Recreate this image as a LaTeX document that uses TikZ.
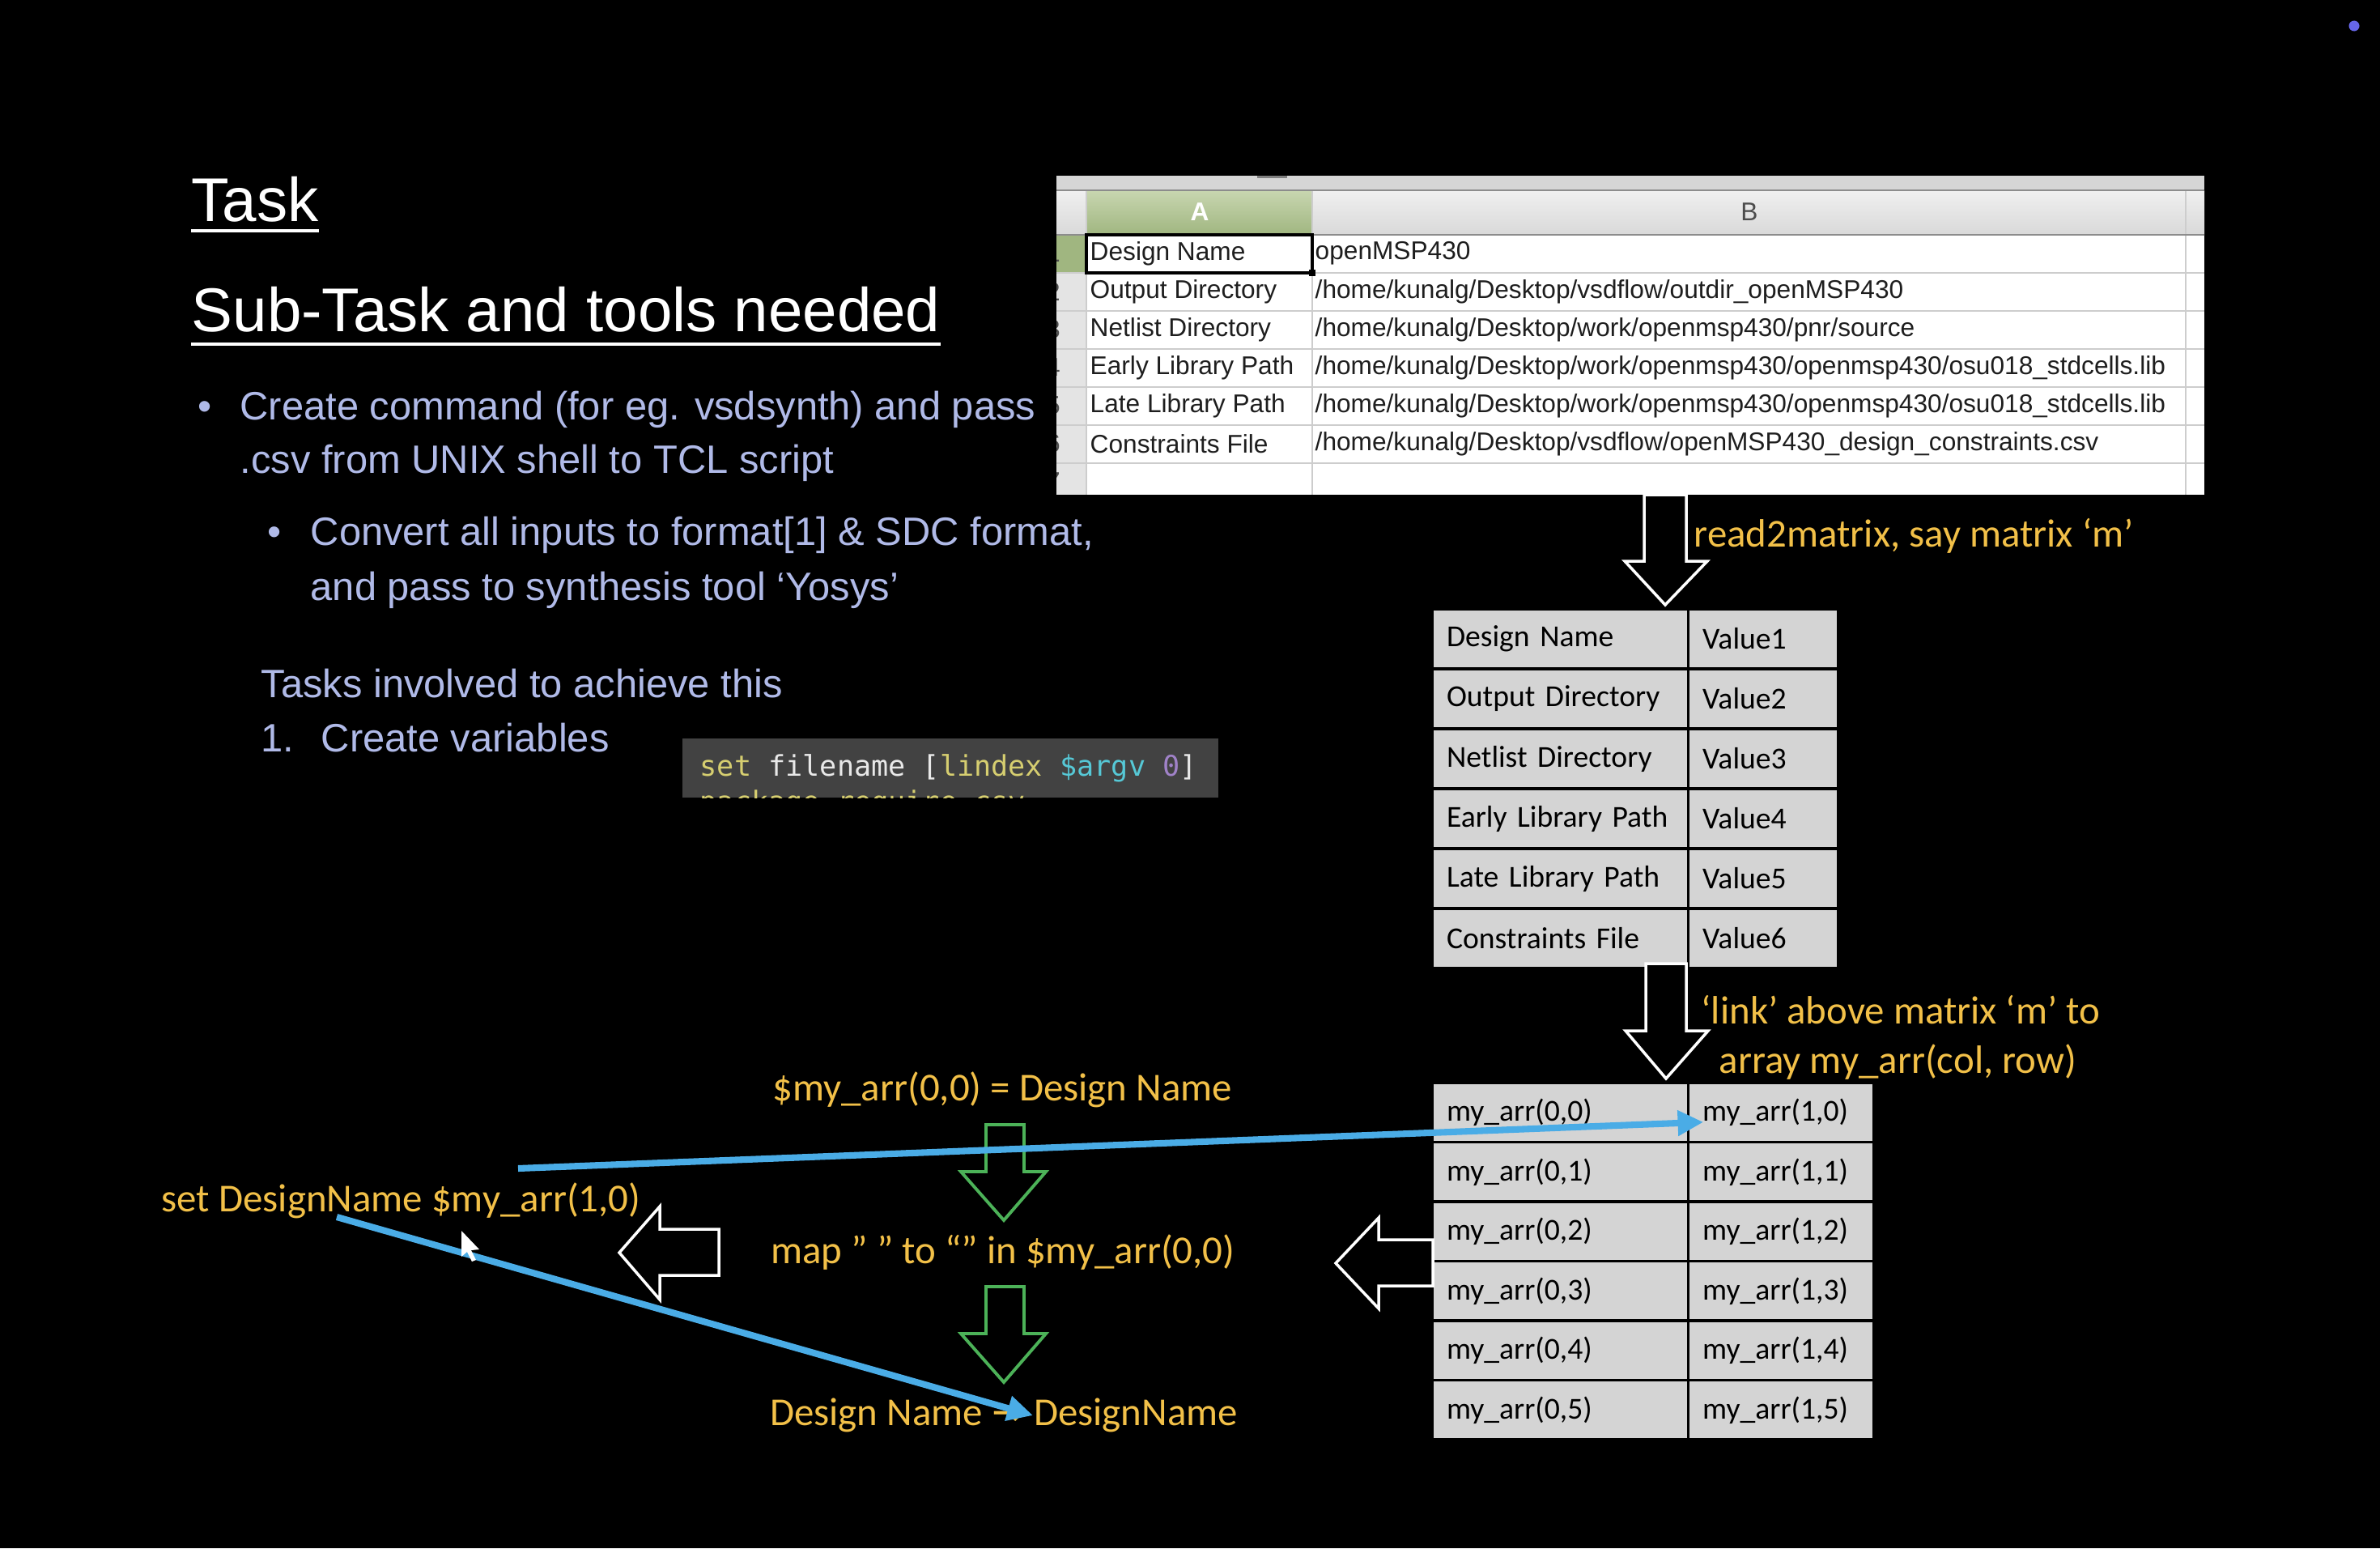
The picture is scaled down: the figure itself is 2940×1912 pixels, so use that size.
\documentclass[tikz,border=0pt]{standalone}
\usepackage{fontspec}
\setmainfont{Liberation Sans}
\newfontfamily\calibri{Carlito}
\newfontfamily\codefont{DejaVu Sans Mono}
\newfontfamily\symfont{DejaVu Sans}
\usetikzlibrary{positioning, arrows.meta}
\definecolor{lavender}{RGB}{176,186,232}
\definecolor{noteyellow}{RGB}{242,192,72}
\definecolor{arrowgreen}{RGB}{76,178,88}
\definecolor{linkblue}{RGB}{74,172,230}
\definecolor{cellgray}{RGB}{212,212,212}
\definecolor{sheetband}{RGB}{214,214,214}
\definecolor{sheethead}{RGB}{228,228,228}
\definecolor{sheetgrid}{RGB}{205,205,205}
\definecolor{sheetink}{RGB}{30,30,30}
\definecolor{sheetgreenhi}{RGB}{200,214,176}
\definecolor{sheetgreen}{RGB}{160,182,128}
\definecolor{codegray}{RGB}{66,66,66}
\definecolor{codeyellow}{RGB}{214,206,112}
\definecolor{codecyan}{RGB}{86,200,214}
\definecolor{codepurple}{RGB}{160,130,200}
\definecolor{codewhite}{RGB}{232,232,232}
\definecolor{cursordot}{RGB}{102,102,232}
\tikzset{
  slidetitle/.style={anchor=base west, inner sep=0pt, text=white,
    font=\fontsize{21.7}{26}\selectfont},
  bullettext/.style={anchor=base west, inner sep=0pt, text=lavender,
    font=\fontsize{13.9}{17}\selectfont},
  sheettext/.style={anchor=west, inner sep=0pt, text=sheetink,
    font=\fontsize{9}{10}\selectfont},
  mcell/.style={anchor=north west, draw=black, line width=0.9pt, fill=cellgray,
    minimum height=0.74cm, inner xsep=0.18cm, outer sep=0pt, align=left, text=black,
    font=\calibri\fontsize{10.7}{12}\selectfont},
  keycol/.style={text width=2.80cm},
  valcol/.style={text width=1.49cm},
  arrcol/.style={text width=1.93cm},
  note/.style={inner sep=0pt, text=noteyellow,
    font=\calibri\fontsize{13.9}{16}\selectfont},
  hollowarrow/.style={draw=white, fill=black, line width=1pt},
  greenarrow/.style={draw=arrowgreen, fill=black, line width=1.1pt},
  bluelink/.style={draw=linkblue, line width=2.3pt,
    -{Triangle[length=9pt,width=8.5pt]}}
}
\begin{document}
\begin{tikzpicture}[x=0.01cm, y=-0.01cm]
\useasboundingbox (0,0) rectangle (2940,1912);
\fill[black] (0,0) rectangle (2940,1912);
\fill[cursordot] (2908,32) circle (0.065cm);

% slide text
\node[slidetitle] (tasktitle) at (236,273) {Task};
\node[slidetitle] (subtitle) at (236,409) {Sub-Task and tools needed};
\draw[white, line width=1.2pt] ([yshift=-3.5pt]tasktitle.base west) -- ([yshift=-3.5pt]tasktitle.base east);
\draw[white, line width=1.2pt] ([yshift=-4.5pt]subtitle.base west) -- ([yshift=-4.5pt]subtitle.base east);

\node[bullettext] (dot1) at (244,518) {•};
\node[bullettext] (line1) at (296,518) {Create command (for eg. vsdsynth) and pass};
\node[bullettext] (line2) at (296,584) {.csv from UNIX shell to TCL script};
\node[bullettext] (dot2) at (330,673) {•};
\node[bullettext] (line3) at (383,673) {Convert all inputs to format[1] \& SDC format,};
\node[bullettext] (line4) at (383,741) {and pass to synthesis tool ‘Yosys’};
\node[bullettext] (line5) at (322,861) {Tasks involved to achieve this};
\node[bullettext] (num1) at (322,928) {1.};
\node[bullettext] (line6) at (396,928) {Create variables};

% code snippet
\node[fill=codegray, minimum width=6.62cm, minimum height=0.73cm, anchor=north west,
  inner sep=0pt] (codebox) at (842,911) {};
\begin{scope}
  \clip (codebox.south west) rectangle (codebox.north east);
  \node[anchor=base west, inner sep=0pt, font=\codefont\fontsize{10}{12}\selectfont]
    (codeline) at (864,958) {\color{codeyellow}set \color{codewhite}filename [\color{codeyellow}lindex
    \color{codecyan}\$argv \color{codepurple}0\color{codewhite}]};
  \node[anchor=base west, inner sep=0pt, text=codeyellow,
    font=\codefont\fontsize{10}{12}\selectfont] (codenext) at (864,1002) {package require csv};
\end{scope}

% csv sheet
\begin{scope}
  \clip (1305,217) rectangle (2723,611);
  \fill[white] (1305,217) rectangle (2723,611);
  \fill[sheetband] (1305,217) rectangle (2723,235);
  \fill[gray] (1553,216) rectangle (1590,220);
  \shade[top color=black!6, bottom color=black!15] (1305,235) rectangle (2723,290);
  \shade[top color=sheetgreenhi, bottom color=sheetgreen] (1342,235) rectangle (1621,290);
  \fill[sheethead] (1305,290) rectangle (1342,611);
  \fill[sheetgreen] (1305,290) rectangle (1342,337);
  \foreach \k in {1,...,7}
    \draw[sheetgrid] (1305,{290+47*\k}) -- (2723,{290+47*\k});
  \foreach \cx in {1342,1621,2700}
    \draw[sheetgrid] (\cx,235) -- (\cx,611);
  \draw[black!45] (1305,290) -- (2723,290);
  \draw[black!45] (1305,235) -- (2723,235);
  \foreach \r in {1,...,7}
    \node[sheettext, anchor=center, text=black!70] at (1301,{313+47*(\r-1)}) {\r};
\end{scope}
\node[sheettext, anchor=center, text=white, font=\fontsize{9}{10}\selectfont\bfseries] (colA) at (1482,262) {A};
\node[sheettext, anchor=center, text=black!70, font=\fontsize{9}{10}\selectfont] (colB) at (2161,262) {B};
\draw[black, line width=0.9pt] (1342,290) rectangle (1621,337);
\fill[black] (1617,333) rectangle (1625,341);

\node[sheettext] (csvA1) at (1346,313) {Design Name};
\node[sheettext] (csvB1) at (1624,313) {openMSP430};
\node[sheettext] (csvA2) at (1346,360) {Output Directory};
\node[sheettext] (csvB2) at (1624,360) {/home/kunalg/Desktop/vsdflow/outdir\_openMSP430};
\node[sheettext] (csvA3) at (1346,407) {Netlist Directory};
\node[sheettext] (csvB3) at (1624,407) {/home/kunalg/Desktop/work/openmsp430/pnr/source};
\node[sheettext] (csvA4) at (1346,454) {Early Library Path};
\node[sheettext] (csvB4) at (1624,454) {/home/kunalg/Desktop/work/openmsp430/openmsp430/osu018\_stdcells.lib};
\node[sheettext] (csvA5) at (1346,501) {Late Library Path};
\node[sheettext] (csvB5) at (1624,501) {/home/kunalg/Desktop/work/openmsp430/openmsp430/osu018\_stdcells.lib};
\node[sheettext] (csvA6) at (1346,548) {Constraints File};
\node[sheettext] (csvB6) at (1624,548) {/home/kunalg/Desktop/vsdflow/openMSP430\_design\_constraints.csv};

% matrix m
\foreach \i/\name in {1/Design Name, 2/Output Directory, 3/Netlist Directory,
    4/Early Library Path, 5/Late Library Path, 6/Constraints File} {
  \node[mcell, keycol] (mk\i) at (1769,{752+74*(\i-1)}) {\name};
  \node[mcell, valcol, right=0pt of mk\i] (mv\i) {Value\i};
}

% array my_arr
\foreach \i in {0,...,5} {
  \node[mcell, keycol, minimum height=0.735cm] (ak\i) at (1769,{1337+73.5*\i}) {my\_arr(0,\i)};
  \node[mcell, arrcol, minimum height=0.735cm, right=0pt of ak\i] (av\i) {my\_arr(1,\i)};
}

% block arrows
\draw[hollowarrow] (2031,611) -- (2031,693) -- (2007,693) -- (2057,747) -- (2109,693)
  -- (2083,693) -- (2083,611) -- cycle;
\draw[hollowarrow] (2033,1190) -- (2033,1273) -- (2008,1273) -- (2058,1332) -- (2110,1273)
  -- (2083,1273) -- (2083,1190) -- cycle;
\draw[hollowarrow] (1770,1531) -- (1703,1531) -- (1703,1504) -- (1650,1560) -- (1703,1616)
  -- (1703,1588) -- (1770,1588) -- cycle;
\draw[hollowarrow] (888,1518) -- (815,1518) -- (815,1490) -- (765,1547) -- (815,1605)
  -- (815,1575) -- (888,1575) -- cycle;
\draw[greenarrow] (1218,1389) -- (1218,1447) -- (1187,1447) -- (1240,1507) -- (1292,1447)
  -- (1265,1447) -- (1265,1389) -- cycle;
\draw[greenarrow] (1218,1589) -- (1218,1647) -- (1187,1647) -- (1240,1707) -- (1292,1647)
  -- (1265,1647) -- (1265,1589) -- cycle;

% labels
\node[note, anchor=west] (readnote) at (2092,662) {read2matrix, say matrix ‘m’};
\node[note, anchor=west] (linknote) at (2101,1247) {‘link’ above matrix ‘m’ to};
\node[note, anchor=west] (linknote2) at (2123,1312) {array my\_arr(col, row)};
\node[note] (eqnote) at (1238,1346) {\$my\_arr(0,0) = Design Name};
\node[note, anchor=west] (setnote) at (199,1483) {set DesignName \$my\_arr(1,0)};
\node[note] (mapnote) at (1239,1547) {map ” ” to “” in \$my\_arr(0,0)};
\node[note] (namenote) at (1240,1748) {Design Name {\symfont →} DesignName};

% links
\coordinate (linkfrom) at (640,1443);
\coordinate (setfrom) at (416,1503);
\draw[bluelink] (linkfrom) -- ([xshift=0.19cm,yshift=-0.12cm]av0.west);
\draw[bluelink] (setfrom) -- ([xshift=0.36cm]namenote.center);

% pointer
\fill[white] (570,1520) -- (570,1552) -- (577,1546) -- (583,1558) -- (588,1556)
  -- (582,1544) -- (592,1543) -- cycle;
\end{tikzpicture}
\end{document}
